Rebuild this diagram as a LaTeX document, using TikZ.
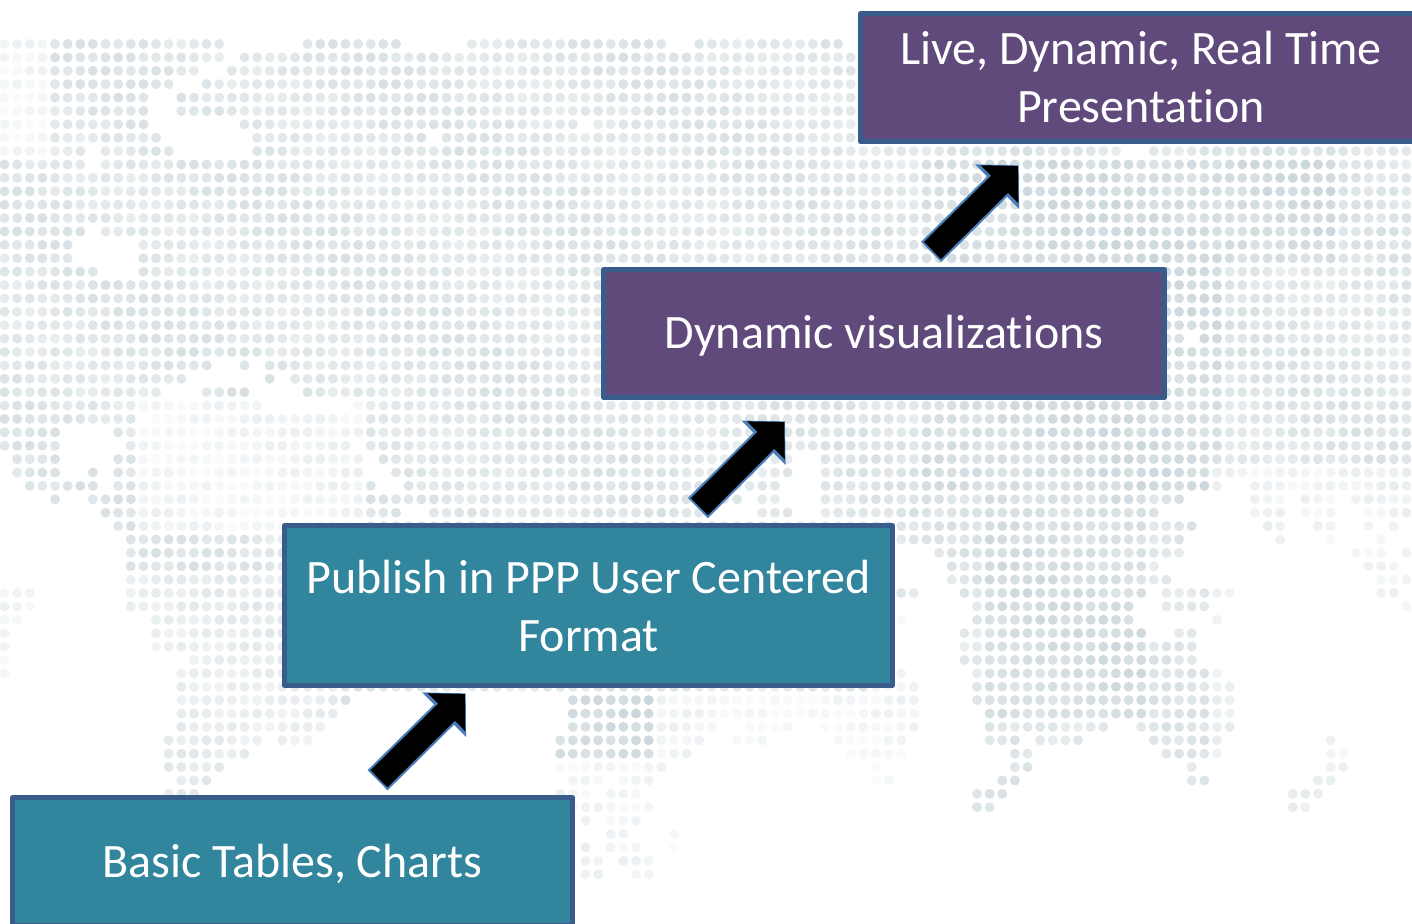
\documentclass[tikz,border=0pt]{standalone}
\usepackage{fontspec}
\setmainfont[Ligatures=NoCommon]{Carlito}
\usetikzlibrary{arrows.meta,calc}
\definecolor{dotc}{HTML}{B8C7CD}
\definecolor{tealbox}{HTML}{31859C}
\definecolor{plumbox}{HTML}{604A7B}
\definecolor{boxedge}{HTML}{385D8A}
\definecolor{arrowedge}{HTML}{4A7EBB}
\tikzset{
  stagebox/.style={draw=boxedge,line width=2.5pt,line join=round,inner sep=0pt,outer sep=0pt,
    text=white,align=center,font=\fontsize{24}{29}\selectfont,minimum height=64pt},
  lowbox/.style={stagebox,fill=tealbox},
  highbox/.style={stagebox,fill=plumbox},
  climb/.style={line width=12pt,black,-{Triangle[length=13pt,width=26pt]},
    preaction={draw=arrowedge,line width=14.2pt,shorten >=-0.5pt,shorten <=-1pt,
      -{Triangle[length=15.2pt,width=30.4pt]}}}
}
\newcommand\zonetone[2]{%
  \def\zt{44}%
  \ifnum#1>72 \ifnum#1<97 \ifnum#2>8 \ifnum#2<34 \def\zt{60}\fi\fi\fi\fi
  \ifnum#1>80 \ifnum#1<106 \ifnum#2>8 \ifnum#2<17 \def\zt{62}\fi\fi\fi\fi
  \ifnum#1>77 \ifnum#1<91 \ifnum#2>33 \ifnum#2<51 \def\zt{58}\fi\fi\fi\fi
  \ifnum#1>10 \ifnum#1<29 \ifnum#2>26 \ifnum#2<37 \def\zt{18}\fi\fi\fi\fi
  \ifnum#1<4 \ifnum#2<9 \def\zt{18}\fi\fi
  \ifnum#1<3 \ifnum#2>40 \def\zt{14}\fi\fi
  \ifnum#2>48 \ifnum#1>51 \ifnum#1<73 \def\zt{15}\fi\fi\fi
  \ifnum#2>48 \ifnum#1>43 \ifnum#1<52 \def\zt{62}\fi\fi\fi
  \ifnum#2>53 \ifnum#1>43 \ifnum#1<53 \def\zt{20}\fi\fi\fi
  \ifnum#1>95 \ifnum#2>31 \def\zt{24}\fi\fi
  \ifnum#2>41 \ifnum#1>68 \ifnum#1<76 \def\zt{15}\fi\fi\fi
  \ifnum#1>9 \ifnum#1<27 \ifnum#2>39 \def\zt{32}\fi\fi\fi
}
\newcommand\dotrow[2]{%
  \foreach \a/\b in {#2}{%
    \foreach \c in {\a,...,\b}{%
      \zonetone{\c}{#1}%
      \pgfmathtruncatemacro\tn{max(8,min(85,\zt+6*sin(\c*73+#1*131)+6*sin(\c*17-#1*23)))}%
      \fill[dotc!\tn!white] ({4.5+12.63*\c},{44+13.39*#1}) circle (5);
    }%
  }%
}
\begin{document}
\begin{tikzpicture}[x=0.5pt,y=-0.5pt]
\useasboundingbox (0,0) rectangle (1412,923);
\clip (0,0) rectangle (1412,923);
\dotrow{0}{0/17,24/31,37/52,55/66}
\dotrow{1}{0/17,19/68}
\dotrow{2}{0/15,18/68}
\dotrow{3}{0/13,16/68}
\dotrow{4}{0/11,14/68}
\dotrow{5}{0/11,14/68}
\dotrow{6}{0/11,19/45,47/68}
\dotrow{7}{0/12,20/33,35/68}
\dotrow{8}{0/6,8/13,20/88,91/111}
\dotrow{9}{0/6,8/111}
\dotrow{10}{0/111}
\dotrow{11}{0/111}
\dotrow{12}{0/111}
\dotrow{13}{0/111}
\dotrow{14}{0/6,8/111}
\dotrow{15}{0/5,11/111}
\dotrow{16}{0/5,11/111}
\dotrow{17}{0/7,11/111}
\dotrow{18}{0/111}
\dotrow{19}{0/111}
\dotrow{20}{0/111}
\dotrow{21}{0/111}
\dotrow{22}{0/93,95/111}
\dotrow{23}{0/111}
\dotrow{24}{0/16,19/19,21/111}
\dotrow{25}{0/14,21/21,23/111}
\dotrow{26}{0/12,16/19,24/111}
\dotrow{27}{0/20,28/111}
\dotrow{28}{0/10,12/111}
\dotrow{29}{0/4,9/111}
\dotrow{30}{0/4,10/27,29/111}
\dotrow{31}{1/4,9/28,30/62,65/111}
\dotrow{32}{1/4,7/7,9/28,31/62,65/111}
\dotrow{33}{2/7,9/29,32/61,65/96,99/111}
\dotrow{34}{4/4,7/58,60/61,65/93,99/101,103/105,107/111}
\dotrow{35}{8/31,34/55,60/62,65/91,99/101,103/105,108/111}
\dotrow{36}{9/94,100/101,104/105,108/108,110/110}
\dotrow{37}{10/93,101/101,105/105,109/109}
\dotrow{38}{10/70,74/93,107/109,111/111}
\dotrow{39}{10/70,75/91,108/110}
\dotrow{40}{10/70,75/92,109/111}
\dotrow{41}{0/2,10/72,76/90,92/97,109/110}
\dotrow{42}{0/2,10/70,77/89,92/95,111/111}
\dotrow{43}{0/1,12/71,77/89,96/96}
\dotrow{44}{0/0,12/70,76/90,93/94}
\dotrow{45}{0/0,12/70,76/94}
\dotrow{46}{0/0,15/70,76/94}
\dotrow{47}{0/0,14/71,77/96}
\dotrow{48}{14/72,77/97}
\dotrow{49}{14/27,45/72,77/97}
\dotrow{50}{14/26,45/72,78/97}
\dotrow{51}{14/25,45/56,59/62,65/72,78/87,90/97}
\dotrow{52}{13/20,22/24,44/55,58/60,66/71,78/80,82/85,91/96,105/105}
\dotrow{53}{13/19,44/54,67/71,80/81,92/96,105/106}
\dotrow{54}{13/17,44/52,69/69,80/81,94/94,105/106}
\dotrow{55}{14/16,45/47,49/51,69/70,79/80,94/95,104/105}
\dotrow{56}{13/15,44/46,48/50,77/79,102/104}
\dotrow{57}{44/51,77/78,102/103}
\dotrow{58}{46/46,48/50}
\dotrow{59}{48/49,53/53}
\dotrow{60}{46/46,48/50,53/53}
\dotrow{61}{46/47,49/51}
\dotrow{62}{46/47,50/51}

\node[lowbox,minimum width=280pt] (basic) at (292.5,861.5) {\rule{0pt}{18.7pt}Basic Tables, Charts};
\node[lowbox,minimum width=304pt,minimum height=80pt] (publish) at (588.5,605.5) {Publish in PPP User Centered\\Format};
\node[highbox,minimum width=280.5pt] (dynamic) at (884,333.5) {\rule{0pt}{18.7pt}Dynamic visualizations};
\node[highbox,minimum width=280.5pt] (live) at (1141,77.5) {Live, Dynamic, Real Time\\Presentation};

\coordinate (a1s) at ($(basic.north)+(86.5,-18.7)$);
\coordinate (a1e) at ($(publish.south)+(-123.5,8.5)$);
\coordinate (a2s) at ($(publish.north)+(110.8,-18.8)$);
\coordinate (a2e) at ($(dynamic.south)+(-99.7,24.5)$);
\coordinate (a3s) at ($(dynamic.north)+(48.5,-19)$);
\coordinate (a3e) at ($(live.south)+(-123,24.5)$);
\draw[climb] (a1s) -- (a1e);
\draw[climb] (a2s) -- (a2e);
\draw[climb] (a3s) -- (a3e);
\end{tikzpicture}
\end{document}
